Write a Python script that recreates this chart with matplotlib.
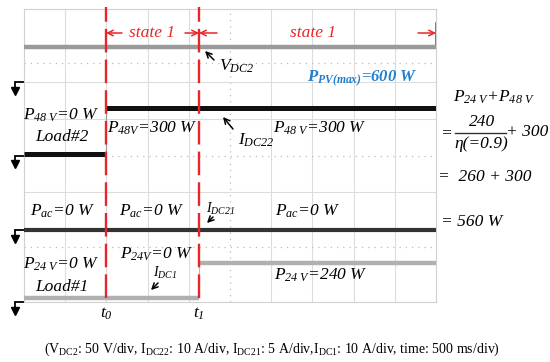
import matplotlib.pyplot as plt
import numpy as np
from matplotlib.transforms import Affine2D

plt.rcParams['mathtext.fontset'] = 'custom'
plt.rcParams['mathtext.rm'] = 'Liberation Serif:italic'
plt.rcParams['mathtext.it'] = 'Liberation Serif:italic'
plt.rcParams['mathtext.bf'] = 'Liberation Serif:italic:bold'
plt.rcParams['mathtext.sf'] = 'Liberation Serif'

# scope data, in divisions (x: 10 div of time, y: 8 div)
t_events = [2.0, 4.25]            # t0, t1
seg_start = [0.0, 2.0, 4.25]
seg_end = [2.0, 4.25, 10.0]
vdc2 = [6.97, 6.97, 6.97]
idc22 = [4.05, 5.3, 5.3]
idc21 = [1.97, 1.97, 1.97]
idc1 = [0.1, 0.1, 1.07]
ground_levels = [6.0, 4.0, 1.97, 0.0]

fig = plt.figure(figsize=(5.5, 3.62), dpi=100)
pix = Affine2D().scale(1 / 550, -1 / 362).translate(0, 1) + fig.transFigure
ax = fig.add_axes([24 / 550, 60 / 362, 412 / 550, 293 / 362])
ax.set_xlim(0, 10)
ax.set_ylim(0, 8)
ax.set_xticks([])
ax.set_yticks([])
for s in ax.spines.values():
    s.set_color('#d0d0d0')
    s.set_linewidth(0.8)

# grid
for gx in [1, 2, 3, 4, 6, 7, 8, 9]:
    ax.axvline(gx, color='#dcdcdc', lw=0.8, zorder=0)
ax.axvline(5, color='#bbbbbb', lw=0.9, ls=(0, (1, 4)), zorder=0)
for gy in [3, 5, 6]:
    ax.axhline(gy, color='#dcdcdc', lw=0.8, zorder=0)
for gy in [1.5, 4.0, 6.53]:
    ax.axhline(gy, color='#bbbbbb', lw=0.9, ls=(0, (1, 4)), zorder=0)

# traces
ax.hlines(vdc2, seg_start, seg_end, color='#9a9a9a', lw=3.2, zorder=3)
ax.hlines(idc22, seg_start, seg_end, color='#111111', lw=3.6, zorder=3)
ax.hlines(idc21, seg_start, seg_end, color='#333333', lw=3.0, zorder=3)
ax.hlines(idc1, seg_start, seg_end, color='#b0b0b0', lw=3.2, zorder=3)
ax.vlines(t_events[0], idc22[0], idc22[1], color='#999999', lw=0.8, zorder=3)
ax.vlines(t_events[1], idc1[1], idc1[2], color='#bbbbbb', lw=0.8, zorder=3)

# t0 / t1 markers
ax.vlines(t_events, 0.1, 8.05, color='#e8262a', lw=1.7, ls=(0, (10, 3)),
          zorder=4, clip_on=False)

# ground symbols
for g in ground_levels:
    ax.plot([0, -0.22, -0.22], [g, g, g - 0.2], color='black', lw=1.3,
            clip_on=False, solid_joinstyle='miter')
    ax.plot([-0.22], [g - 0.24], marker='v', ms=6, color='black', clip_on=False)

red = '#e8262a'
it = dict(family='Liberation Serif', style='italic', transform=pix,
          ha='center', va='center', fontsize=12.5)

def arrow(tip, tail, color='black', lw=1.1):
    ax.annotate('', xy=tip, xycoords=pix, xytext=tail, textcoords=pix,
                arrowprops=dict(arrowstyle='->', color=color, lw=lw,
                                shrinkA=0, shrinkB=0), annotation_clip=False)

# state arrows
arrow((106, 33), (122, 33), red)
arrow((199, 33), (185, 33), red)
arrow((199, 33), (217, 33), red)
arrow((436, 33), (418, 33), red)
ax.plot([436, 436], [23, 45], color=red, lw=1.2, transform=pix, clip_on=False)
ax.text(152, 33, 'state 1', color=red, **it)
ax.text(313, 33, 'state 1', color=red, **it)

# labels on the traces
ax.text(237, 66, r'$V_{DC2}$', fontweight='bold', **it)
arrow((205, 51), (214, 60))
ax.text(362, 79, r'$\mathbf{P_{PV(max)}}$=600 W', color='#1f7fd0',
        fontweight='bold', **{**it, 'fontsize': 12})
ax.text(256, 140, r'$I_{DC22}$', fontweight='bold', **it)
arrow((223, 117), (233, 129))
ax.text(61, 115, r'$P_{48\ V}$=0 W', **it)
ax.text(62, 137, 'Load#2', **it)
ax.text(152, 128, r'$P_{48V}$=300 W', **it)
ax.text(320, 128, r'$P_{48\ V}$=300 W', **it)
ax.text(63, 211, r'$P_{ac}$=0 W', **it)
ax.text(152, 211, r'$P_{ac}$=0 W', **it)
ax.text(308, 211, r'$P_{ac}$=0 W', **it)
ax.text(220, 209, r'$I_{DC21}$', fontweight='bold',
        **{**it, 'fontsize': 10})
arrow((207, 223), (213, 217))
ax.text(61, 264, r'$P_{24\ V}$=0 W', **it)
ax.text(62, 287, 'Load#1', **it)
ax.text(157, 254, r'$P_{24V}$=0 W', **it)
ax.text(165, 273, r'$I_{DC1}$', fontweight='bold', **{**it, 'fontsize': 10})
arrow((151, 290), (158, 283))
ax.text(321, 275, r'$P_{24\ V}$=240 W', **it)
ax.text(106, 314, r'$t_0$', **it)
ax.text(199, 314, r'$t_1$', **it)

# power balance on the right
ax.text(494, 97, r'$P_{24\ V}$+$P_{48\ V}$', **it)
ax.text(446, 133, '=', **it)
ax.text(482, 122, '240', **it)
ax.plot([455, 506], [133, 133], color='#333333', lw=1.0, transform=pix,
        clip_on=False)
ax.text(481, 144, 'η(=0.9)', **it)
ax.text(527, 132, '+ 300', **it)
ax.text(485, 177, '=  260 + 300', **it)
ax.text(472, 222, '= 560 W', **it)

# caption
fig.text(272, 349, r'($\mathsf{V_{DC2}}$: 50 V/div, $\mathsf{I_{DC22}}$: 10 A/div, '
         r'$\mathsf{I_{DC21}}$: 5 A/div,$\mathsf{I_{DC1}}$: 10 A/div, time: 500 ms/div)',
         family='Liberation Serif', fontsize=10, ha='center', va='center',
         transform=pix)

plt.savefig('out.png', dpi=100)
